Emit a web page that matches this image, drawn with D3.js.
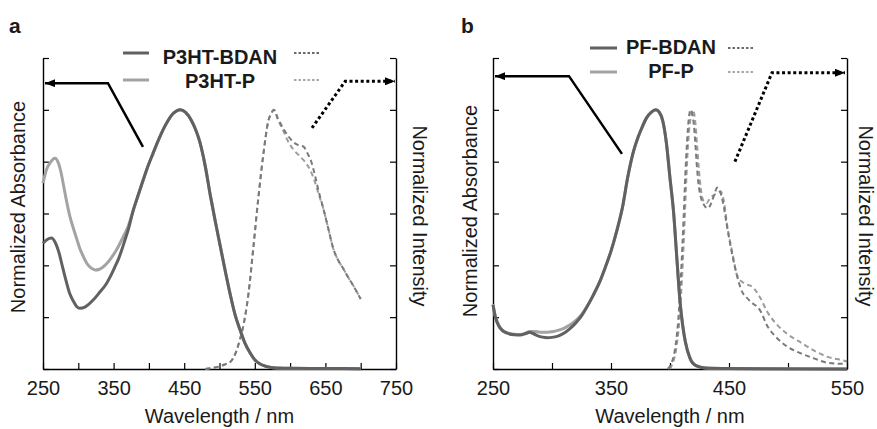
<!doctype html>
<html>
<head>
<meta charset="UTF-8">
<title>absorbance / emission</title>
<script src="https://cdn.jsdelivr.net/npm/d3@7/dist/d3.min.js"></script>
<style>
  body { margin: 0; background: #fff; }
  svg text { font-family: "Liberation Sans", Arial, sans-serif; fill: #1a1a1a; }
</style>
</head>
<body>
<div id="chart"></div>
<script>
// ---- data: [wavelength nm, normalized value] ----

// panel a, absorbance (both curves overlap after ~375 nm)
var absP3htBdanHead = [[250,0.485],[256,0.50],[262,0.505],[267,0.49],[272,0.455],[278,0.39],[283,0.337],[288,0.29],[293,0.262],[298,0.24],[302,0.234],[310,0.24],[321,0.266],[330,0.295],[340,0.33],[346,0.36],[352,0.395],[357,0.425],[361.5,0.459],[366,0.497],[371,0.54]];
var absP3htPHead = [[250,0.717],[255,0.77],[260,0.795],[267,0.813],[271,0.80],[275,0.765],[279,0.71],[283.5,0.646],[288,0.59],[293,0.543],[298,0.50],[302,0.466],[307,0.435],[312,0.408],[318,0.39],[324,0.382],[330,0.385],[340,0.406],[347,0.43],[354,0.459],[360,0.49],[366,0.523],[371,0.553]];
var absP3htTail = [[378,0.614],[385,0.672],[392,0.73],[399,0.785],[406,0.833],[413,0.88],[420,0.923],[427,0.958],[434,0.985],[440,0.997],[444,1.0],[452,0.99],[460,0.96],[466,0.925],[472,0.877],[480,0.78],[487,0.67],[494,0.57],[501,0.475],[508,0.38],[515,0.29],[522,0.21],[529,0.152],[536,0.10],[543,0.064],[550,0.036],[557,0.02],[566,0.01],[576,0.005],[600,0.003],[650,0.002],[700,0.001]];

// panel a, emission
var emP3htRise = [[480,0],[490,0.004],[500,0.01],[508,0.018],[515,0.026],[520,0.045],[524,0.07],[529,0.115],[534,0.17],[541,0.29],[548,0.47],[555,0.66],[562,0.826],[569,0.955],[574,0.99],[577,1.0]];
var emP3htBdanTop = [[583,0.965],[590,0.93],[597,0.9],[604,0.877],[611,0.865],[619,0.858],[625,0.83],[630,0.80],[635,0.749],[641,0.68]];
var emP3htPTop = [[583,0.96],[590,0.922],[595,0.89],[600,0.865],[607,0.84],[614,0.82],[621,0.80],[628,0.77],[635,0.723],[641,0.67]];
var emP3htTail = [[647,0.62],[654,0.543],[661,0.466],[668,0.42],[675,0.389],[682,0.355],[689,0.324],[695,0.295],[700,0.27]];

// panel b, absorbance
var absPfBdanHead = [[250,0.247],[252,0.20],[255,0.165],[258,0.148],[262,0.138],[268,0.132],[273,0.131],[278,0.137],[281,0.142],[284,0.137],[288,0.128],[292,0.123],[296,0.121],[300,0.122],[305,0.127],[310,0.138],[315,0.155],[320,0.177],[325,0.205]];
var absPfPHead = [[250,0.25],[252,0.203],[255,0.168],[258,0.15],[262,0.14],[268,0.134],[273,0.133],[278,0.139],[281,0.145],[285,0.145],[290,0.142],[296,0.142],[300,0.144],[305,0.149],[310,0.157],[315,0.17],[320,0.187],[325,0.21]];
var absPfTail = [[330,0.243],[335,0.285],[340,0.332],[345,0.39],[350,0.455],[355,0.535],[360,0.63],[364,0.736],[369,0.839],[373,0.895],[376,0.929],[380,0.968],[384,0.99],[388,1.0],[391,0.99],[394,0.955],[397,0.87],[400,0.736],[403,0.607],[406,0.414],[408.5,0.26],[411,0.16],[413,0.105],[417,0.041],[422,0.013],[430,0.004],[450,0.002],[550,0.0]];

// panel b, emission
var emPfBdan = [[398,0],[401,0.02],[404,0.07],[407,0.19],[409.5,0.38],[411.5,0.58],[413,0.75],[414.5,0.88],[416,0.97],[417.5,1.0],[419.5,0.97],[421,0.9],[422.5,0.8],[424,0.72],[426,0.665],[429,0.632],[432,0.62],[435,0.64],[438,0.68],[440,0.70],[442,0.69],[445,0.64],[448.6,0.543],[452.8,0.44],[457,0.356],[460,0.31],[467,0.266],[477,0.221],[482,0.17],[489.5,0.125],[499.5,0.086],[511,0.06],[522,0.041],[533.5,0.024],[545,0.02],[550,0.03]];
var emPfP = [[400,0],[402,0.02],[405,0.07],[408,0.19],[410.5,0.38],[412.5,0.58],[414,0.75],[415.5,0.88],[417.5,0.97],[419.5,1.0],[421.5,0.95],[423,0.86],[424.5,0.77],[426,0.70],[428.6,0.646],[431,0.64],[434,0.66],[437,0.67],[440,0.68],[443,0.685],[445.7,0.646],[448.6,0.55],[452.8,0.45],[457,0.36],[463,0.33],[469.6,0.318],[476.7,0.273],[482.4,0.221],[490.9,0.17],[500.8,0.131],[512,0.099],[523.6,0.067],[533.5,0.047],[545,0.035],[550,0.03]];

// arrows pointing to the axes, in data units [wl, value]
var arrowAbsA = [[391.6,0.857],[342,1.103],[252.8,1.103]];
var arrowEmA = [[631,0.93],[678,1.11],[748.6,1.11]];
var arrowAbsB = [[359.3,0.83],[314.4,1.13],[251.7,1.13]];
var arrowEmB = [[455,0.8],[486.4,1.143],[548.3,1.143]];

var yTicks = [0, 0.2, 0.4, 0.6, 0.8, 1.0, 1.2];
var xTicksA = d3.range(250, 751, 50);
var xTicksB = d3.range(250, 551, 50);

var W = 877, H = 429;
var darkCol = "#616161", lightCol = "#a3a3a3";
var darkDash = "#7a7a7a", lightDash = "#9c9c9c";
var fs = 20;

var svg = d3.select("#chart").append("svg")
  .attr("width", W).attr("height", H);

var defs = svg.append("defs");
defs.append("marker")
  .attr("id", "head")
  .attr("viewBox", "0 0 10 8")
  .attr("refX", 10).attr("refY", 4)
  .attr("markerWidth", 10).attr("markerHeight", 8)
  .attr("markerUnits", "userSpaceOnUse")
  .attr("orient", "auto")
  .append("path").attr("d", "M0,0L10,4L0,8Z").attr("fill", "#000");

function drawPanel(p) {
  var x = d3.scaleLinear().domain(p.xDomain).range([p.left, p.right]);
  var y = d3.scaleLinear().domain([0, 1.2]).range([369, 58]);
  var g = svg.append("g");

  var line = d3.line()
    .x(function(d) { return x(d[0]); })
    .y(function(d) { return y(d[1]); })
    .curve(d3.curveMonotoneX);

  // axes: ticks inward, no top border
  g.append("g").attr("transform", "translate(0,369)")
    .call(d3.axisBottom(x).tickValues(p.xTicks).tickSizeInner(-6).tickSizeOuter(0).tickPadding(12)
      .tickFormat(function(d) { return (d - 250) % 100 === 0 ? d : ""; }))
    .call(function(a) {
      a.select(".domain").attr("stroke-width", 1.4);
      a.selectAll("line").attr("stroke-width", 1.2);
      a.selectAll("text").attr("font-size", fs).attr("fill", "#1a1a1a")
        .attr("font-family", "Liberation Sans, Arial, sans-serif");
    });
  g.append("g").attr("transform", "translate(" + p.left + ",0)")
    .call(d3.axisLeft(y).tickValues(yTicks).tickSizeInner(-6).tickSizeOuter(0).tickFormat(""))
    .call(function(a) { a.select(".domain").attr("stroke-width", 1.4); a.selectAll("line").attr("stroke-width", 1.2); });
  g.append("g").attr("transform", "translate(" + p.right + ",0)")
    .call(d3.axisRight(y).tickValues(yTicks).tickSizeInner(-6).tickSizeOuter(0).tickFormat(""))
    .call(function(a) { a.select(".domain").attr("stroke-width", 1.4); a.selectAll("line").attr("stroke-width", 1.2); });

  // emission (dashed)
  g.append("path").attr("d", line(p.emLight)).attr("fill", "none")
    .attr("stroke", lightDash).attr("stroke-width", 2).attr("stroke-dasharray", "5,3.5");
  g.append("path").attr("d", line(p.emDark)).attr("fill", "none")
    .attr("stroke", darkDash).attr("stroke-width", 2).attr("stroke-dasharray", "5,3.5");

  // absorbance (solid)
  g.append("path").attr("d", line(p.absLight)).attr("fill", "none")
    .attr("stroke", lightCol).attr("stroke-width", 3);
  g.append("path").attr("d", line(p.absDark)).attr("fill", "none")
    .attr("stroke", darkCol).attr("stroke-width", 3);

  // arrows
  var straight = d3.line().x(function(d) { return x(d[0]); }).y(function(d) { return y(d[1]); });
  g.append("path").attr("d", straight(p.arrowAbs)).attr("fill", "none")
    .attr("stroke", "#000").attr("stroke-width", 2.5).attr("marker-end", "url(#head)");
  g.append("path").attr("d", straight(p.arrowEm)).attr("fill", "none")
    .attr("stroke", "#000").attr("stroke-width", 3).attr("stroke-dasharray", "3,2.6")
    .attr("marker-end", "url(#head)");

  // legend
  var lg = p.legend;
  lg.rows.forEach(function(r) {
    g.append("line").attr("x1", lg.solidX[0]).attr("x2", lg.solidX[1])
      .attr("y1", r.y).attr("y2", r.y).attr("stroke", r.col).attr("stroke-width", 3);
    g.append("line").attr("x1", lg.dotX[0]).attr("x2", lg.dotX[1])
      .attr("y1", r.y).attr("y2", r.y).attr("stroke", r.dcol).attr("stroke-width", 2.2)
      .attr("stroke-dasharray", "2.5,2");
    g.append("text").attr("x", lg.textX).attr("y", r.base).attr("text-anchor", "middle")
      .attr("font-size", fs).attr("font-weight", "bold").text(r.label);
  });

  // titles
  g.append("text").attr("x", p.labelX).attr("y", 33).attr("font-size", 21)
    .attr("font-weight", "bold").text(p.label);
  g.append("text").attr("text-anchor", "middle").attr("font-size", fs)
    .attr("transform", "translate(" + p.absTitleX + "," + p.absTitleY + ") rotate(-90)")
    .text("Normalized Absorbance");
  g.append("text").attr("text-anchor", "middle").attr("font-size", fs)
    .attr("transform", "translate(" + p.emTitleX + ",216) rotate(90)")
    .text("Normalized Intensity");
  g.append("text").attr("text-anchor", "middle").attr("font-size", fs)
    .attr("x", (p.left + p.right) / 2).attr("y", 423)
    .text("Wavelength / nm");
}

drawPanel({
  label: "a", labelX: 9,
  xDomain: [250, 750], left: 43, right: 396, xTicks: xTicksA,
  absDark: absP3htBdanHead.concat(absP3htTail),
  absLight: absP3htPHead.concat(absP3htTail),
  emDark: emP3htRise.concat(emP3htBdanTop, emP3htTail),
  emLight: emP3htRise.concat(emP3htPTop, emP3htTail),
  arrowAbs: arrowAbsA, arrowEm: arrowEmA,
  absTitleX: 25, absTitleY: 207, emTitleX: 413,
  legend: {
    solidX: [123, 149], dotX: [294, 321], textX: 220,
    rows: [
      { label: "P3HT-BDAN", y: 53, base: 64, col: darkCol, dcol: "#6a6a6a" },
      { label: "P3HT-P", y: 80, base: 88, col: lightCol, dcol: "#a8a8a8" }
    ]
  }
});

drawPanel({
  label: "b", labelX: 461,
  xDomain: [250, 550], left: 493, right: 847, xTicks: xTicksB,
  absDark: absPfBdanHead.concat(absPfTail),
  absLight: absPfPHead.concat(absPfTail),
  emDark: emPfBdan, emLight: emPfP,
  arrowAbs: arrowAbsB, arrowEm: arrowEmB,
  absTitleX: 477, absTitleY: 211, emTitleX: 859,
  legend: {
    solidX: [590, 617], dotX: [728, 755], textX: 671,
    rows: [
      { label: "PF-BDAN", y: 48, base: 54, col: darkCol, dcol: "#6a6a6a" },
      { label: "PF-P", y: 72, base: 78, col: lightCol, dcol: "#a8a8a8" }
    ]
  }
});
</script>
</body>
</html>
